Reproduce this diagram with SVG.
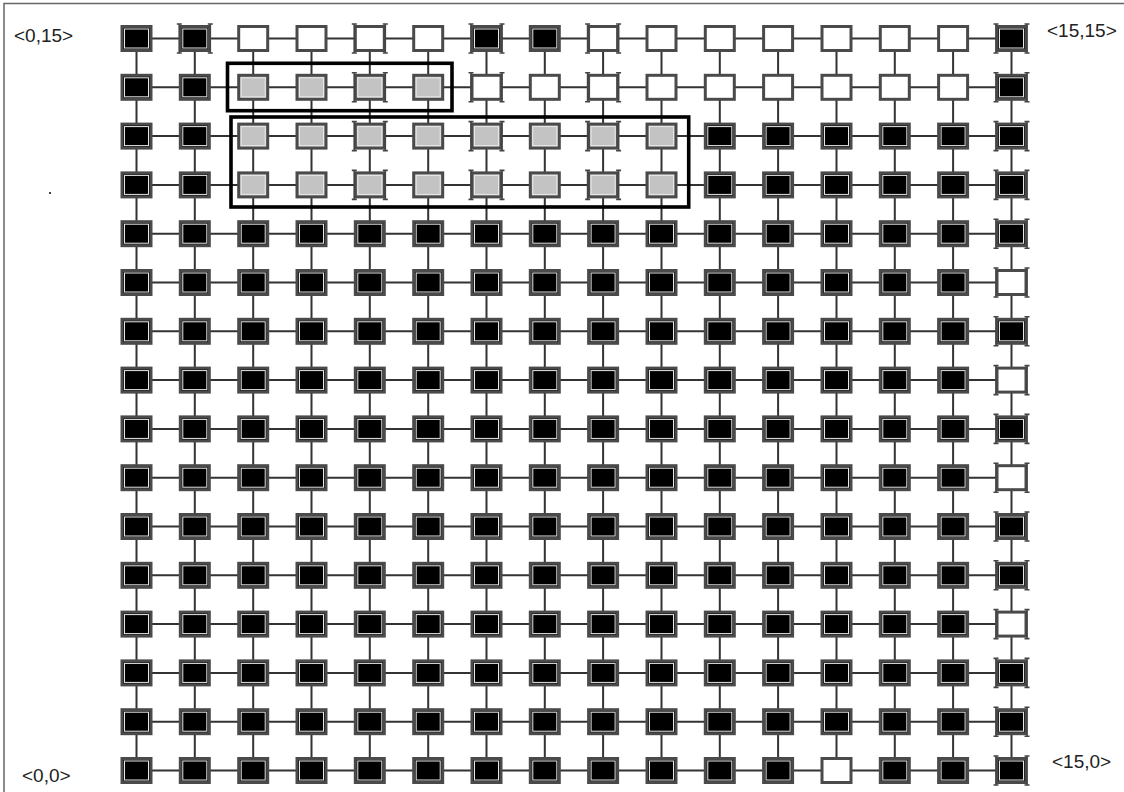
<svg xmlns="http://www.w3.org/2000/svg" xmlns:xlink="http://www.w3.org/1999/xlink" width="1124" height="792" viewBox="0 0 1124 792">
<style>
.frame{fill:none;stroke:#666;stroke-width:1.5}
.con{fill:none;stroke:#333;stroke-width:2}
.box{fill:none;stroke:#000;stroke-width:3.6}
.lbl{font-family:"Liberation Sans",Arial,sans-serif;font-size:19px;fill:#222}
.ob{stroke:#4a4a4a;stroke-width:3}
.ring{fill:none;stroke:#e8e8e8;stroke-width:1}
.ib{fill:none;stroke:#444;stroke-width:1.6}
</style>
<defs>
<g id="B"><rect class="ob" x="-14.5" y="-12" width="29" height="24" fill="#000"/><rect class="ring" x="-12" y="-9.5" width="24" height="19"/></g>
<g id="W"><rect class="ob" x="-14.5" y="-12" width="29" height="24" fill="#fff"/></g>
<g id="G"><rect class="ob" x="-14.5" y="-12" width="29" height="24" fill="#c3c3c3"/><rect class="ring" x="-12" y="-9.5" width="24" height="19"/></g>
<path id="IB" class="ib" d="M-15.5 -15V15M15.5 -15V15M-18 -14.5H-13M13 -14.5H18M-18 14.5H-13M13 14.5H18"/>
<path id="hrow" d="M150 0H181.3M208.3 0H239.7M266.7 0H298M325 0H356.3M383.3 0H414.7M441.7 0H473M500 0H531.3M558.3 0H589.6M616.6 0H648M675 0H706.3M733.3 0H764.6M791.6 0H823M850 0H881.3M908.3 0H939.6M966.6 0H998"/>
<path id="vcol" d="M0 50.5V75.3M0 99.3V124.1M0 148.1V172.9M0 196.9V221.7M0 245.7V270.5M0 294.5V319.3M0 343.3V368.1M0 392.1V416.9M0 440.9V465.7M0 489.7V514.5M0 538.5V563.3M0 587.3V612.1M0 636.1V660.9M0 684.9V709.7M0 733.7V758.5"/>
</defs>
<rect width="1124" height="792" fill="#fff"/>
<path class="frame" d="M4 792V3.5H1124"/>
<rect x="49" y="192" width="2" height="2" fill="#444"/>
<g id="labels">
<text class="lbl" x="14" y="42">&lt;0,15&gt;</text>
<text class="lbl" x="1047" y="37">&lt;15,15&gt;</text>
<text class="lbl" x="22" y="782">&lt;0,0&gt;</text>
<text class="lbl" x="1052" y="768">&lt;15,0&gt;</text>
</g>
<g id="connectors" class="con">
<use href="#hrow" y="38.5"/><use href="#hrow" y="87.3"/><use href="#hrow" y="136.1"/><use href="#hrow" y="184.9"/>
<use href="#hrow" y="233.7"/><use href="#hrow" y="282.5"/><use href="#hrow" y="331.3"/><use href="#hrow" y="380.1"/>
<use href="#hrow" y="428.9"/><use href="#hrow" y="477.7"/><use href="#hrow" y="526.5"/><use href="#hrow" y="575.3"/>
<use href="#hrow" y="624.1"/><use href="#hrow" y="672.9"/><use href="#hrow" y="721.7"/><use href="#hrow" y="770.5"/>
<use href="#vcol" x="136.5"/><use href="#vcol" x="194.8"/><use href="#vcol" x="253.2"/><use href="#vcol" x="311.5"/>
<use href="#vcol" x="369.8"/><use href="#vcol" x="428.2"/><use href="#vcol" x="486.5"/><use href="#vcol" x="544.8"/>
<use href="#vcol" x="603.1"/><use href="#vcol" x="661.5"/><use href="#vcol" x="719.8"/><use href="#vcol" x="778.1"/>
<use href="#vcol" x="836.5"/><use href="#vcol" x="894.8"/><use href="#vcol" x="953.1"/><use href="#vcol" x="1011.5"/>
</g>
<g id="nodes">
<g id="n0_15"><use href="#B" x="136.5" y="38.5"/></g><g id="n1_15"><use href="#B" x="194.8" y="38.5"/><use href="#IB" x="194.8" y="38.5"/></g><g id="n2_15"><use href="#W" x="253.2" y="38.5"/></g><g id="n3_15"><use href="#W" x="311.5" y="38.5"/></g><g id="n4_15"><use href="#W" x="369.8" y="38.5"/><use href="#IB" x="369.8" y="38.5"/></g><g id="n5_15"><use href="#W" x="428.2" y="38.5"/></g><g id="n6_15"><use href="#B" x="486.5" y="38.5"/><use href="#IB" x="486.5" y="38.5"/></g><g id="n7_15"><use href="#B" x="544.8" y="38.5"/></g><g id="n8_15"><use href="#W" x="603.1" y="38.5"/><use href="#IB" x="603.1" y="38.5"/></g><g id="n9_15"><use href="#W" x="661.5" y="38.5"/></g><g id="n10_15"><use href="#W" x="719.8" y="38.5"/></g><g id="n11_15"><use href="#W" x="778.1" y="38.5"/></g><g id="n12_15"><use href="#W" x="836.5" y="38.5"/></g><g id="n13_15"><use href="#W" x="894.8" y="38.5"/></g><g id="n14_15"><use href="#W" x="953.1" y="38.5"/></g><g id="n15_15"><use href="#B" x="1011.5" y="38.5"/><use href="#IB" x="1011.5" y="38.5"/></g>
<g id="n0_14"><use href="#B" x="136.5" y="87.3"/></g><g id="n1_14"><use href="#B" x="194.8" y="87.3"/></g><g id="n2_14"><use href="#G" x="253.2" y="87.3"/></g><g id="n3_14"><use href="#G" x="311.5" y="87.3"/></g><g id="n4_14"><use href="#G" x="369.8" y="87.3"/><use href="#IB" x="369.8" y="87.3"/></g><g id="n5_14"><use href="#G" x="428.2" y="87.3"/></g><g id="n6_14"><use href="#W" x="486.5" y="87.3"/><use href="#IB" x="486.5" y="87.3"/></g><g id="n7_14"><use href="#W" x="544.8" y="87.3"/></g><g id="n8_14"><use href="#W" x="603.1" y="87.3"/><use href="#IB" x="603.1" y="87.3"/></g><g id="n9_14"><use href="#W" x="661.5" y="87.3"/></g><g id="n10_14"><use href="#W" x="719.8" y="87.3"/></g><g id="n11_14"><use href="#W" x="778.1" y="87.3"/></g><g id="n12_14"><use href="#W" x="836.5" y="87.3"/></g><g id="n13_14"><use href="#W" x="894.8" y="87.3"/></g><g id="n14_14"><use href="#W" x="953.1" y="87.3"/></g><g id="n15_14"><use href="#B" x="1011.5" y="87.3"/><use href="#IB" x="1011.5" y="87.3"/></g>
<g id="n0_13"><use href="#B" x="136.5" y="136.1"/></g><g id="n1_13"><use href="#B" x="194.8" y="136.1"/></g><g id="n2_13"><use href="#G" x="253.2" y="136.1"/></g><g id="n3_13"><use href="#G" x="311.5" y="136.1"/></g><g id="n4_13"><use href="#G" x="369.8" y="136.1"/><use href="#IB" x="369.8" y="136.1"/></g><g id="n5_13"><use href="#G" x="428.2" y="136.1"/></g><g id="n6_13"><use href="#G" x="486.5" y="136.1"/><use href="#IB" x="486.5" y="136.1"/></g><g id="n7_13"><use href="#G" x="544.8" y="136.1"/></g><g id="n8_13"><use href="#G" x="603.1" y="136.1"/><use href="#IB" x="603.1" y="136.1"/></g><g id="n9_13"><use href="#G" x="661.5" y="136.1"/></g><g id="n10_13"><use href="#B" x="719.8" y="136.1"/></g><g id="n11_13"><use href="#B" x="778.1" y="136.1"/></g><g id="n12_13"><use href="#B" x="836.5" y="136.1"/></g><g id="n13_13"><use href="#B" x="894.8" y="136.1"/></g><g id="n14_13"><use href="#B" x="953.1" y="136.1"/></g><g id="n15_13"><use href="#B" x="1011.5" y="136.1"/><use href="#IB" x="1011.5" y="136.1"/></g>
<g id="n0_12"><use href="#B" x="136.5" y="184.9"/></g><g id="n1_12"><use href="#B" x="194.8" y="184.9"/></g><g id="n2_12"><use href="#G" x="253.2" y="184.9"/></g><g id="n3_12"><use href="#G" x="311.5" y="184.9"/></g><g id="n4_12"><use href="#G" x="369.8" y="184.9"/><use href="#IB" x="369.8" y="184.9"/></g><g id="n5_12"><use href="#G" x="428.2" y="184.9"/></g><g id="n6_12"><use href="#G" x="486.5" y="184.9"/><use href="#IB" x="486.5" y="184.9"/></g><g id="n7_12"><use href="#G" x="544.8" y="184.9"/></g><g id="n8_12"><use href="#G" x="603.1" y="184.9"/><use href="#IB" x="603.1" y="184.9"/></g><g id="n9_12"><use href="#G" x="661.5" y="184.9"/></g><g id="n10_12"><use href="#B" x="719.8" y="184.9"/></g><g id="n11_12"><use href="#B" x="778.1" y="184.9"/></g><g id="n12_12"><use href="#B" x="836.5" y="184.9"/></g><g id="n13_12"><use href="#B" x="894.8" y="184.9"/></g><g id="n14_12"><use href="#B" x="953.1" y="184.9"/></g><g id="n15_12"><use href="#B" x="1011.5" y="184.9"/><use href="#IB" x="1011.5" y="184.9"/></g>
<g id="n0_11"><use href="#B" x="136.5" y="233.7"/></g><g id="n1_11"><use href="#B" x="194.8" y="233.7"/></g><g id="n2_11"><use href="#B" x="253.2" y="233.7"/></g><g id="n3_11"><use href="#B" x="311.5" y="233.7"/></g><g id="n4_11"><use href="#B" x="369.8" y="233.7"/></g><g id="n5_11"><use href="#B" x="428.2" y="233.7"/></g><g id="n6_11"><use href="#B" x="486.5" y="233.7"/></g><g id="n7_11"><use href="#B" x="544.8" y="233.7"/></g><g id="n8_11"><use href="#B" x="603.1" y="233.7"/></g><g id="n9_11"><use href="#B" x="661.5" y="233.7"/></g><g id="n10_11"><use href="#B" x="719.8" y="233.7"/></g><g id="n11_11"><use href="#B" x="778.1" y="233.7"/></g><g id="n12_11"><use href="#B" x="836.5" y="233.7"/></g><g id="n13_11"><use href="#B" x="894.8" y="233.7"/></g><g id="n14_11"><use href="#B" x="953.1" y="233.7"/></g><g id="n15_11"><use href="#B" x="1011.5" y="233.7"/><use href="#IB" x="1011.5" y="233.7"/></g>
<g id="n0_10"><use href="#B" x="136.5" y="282.5"/></g><g id="n1_10"><use href="#B" x="194.8" y="282.5"/></g><g id="n2_10"><use href="#B" x="253.2" y="282.5"/></g><g id="n3_10"><use href="#B" x="311.5" y="282.5"/></g><g id="n4_10"><use href="#B" x="369.8" y="282.5"/></g><g id="n5_10"><use href="#B" x="428.2" y="282.5"/></g><g id="n6_10"><use href="#B" x="486.5" y="282.5"/></g><g id="n7_10"><use href="#B" x="544.8" y="282.5"/></g><g id="n8_10"><use href="#B" x="603.1" y="282.5"/></g><g id="n9_10"><use href="#B" x="661.5" y="282.5"/></g><g id="n10_10"><use href="#B" x="719.8" y="282.5"/></g><g id="n11_10"><use href="#B" x="778.1" y="282.5"/></g><g id="n12_10"><use href="#B" x="836.5" y="282.5"/></g><g id="n13_10"><use href="#B" x="894.8" y="282.5"/></g><g id="n14_10"><use href="#B" x="953.1" y="282.5"/></g><g id="n15_10"><use href="#W" x="1011.5" y="282.5"/><use href="#IB" x="1011.5" y="282.5"/></g>
<g id="n0_9"><use href="#B" x="136.5" y="331.3"/></g><g id="n1_9"><use href="#B" x="194.8" y="331.3"/></g><g id="n2_9"><use href="#B" x="253.2" y="331.3"/></g><g id="n3_9"><use href="#B" x="311.5" y="331.3"/></g><g id="n4_9"><use href="#B" x="369.8" y="331.3"/></g><g id="n5_9"><use href="#B" x="428.2" y="331.3"/></g><g id="n6_9"><use href="#B" x="486.5" y="331.3"/></g><g id="n7_9"><use href="#B" x="544.8" y="331.3"/></g><g id="n8_9"><use href="#B" x="603.1" y="331.3"/></g><g id="n9_9"><use href="#B" x="661.5" y="331.3"/></g><g id="n10_9"><use href="#B" x="719.8" y="331.3"/></g><g id="n11_9"><use href="#B" x="778.1" y="331.3"/></g><g id="n12_9"><use href="#B" x="836.5" y="331.3"/></g><g id="n13_9"><use href="#B" x="894.8" y="331.3"/></g><g id="n14_9"><use href="#B" x="953.1" y="331.3"/></g><g id="n15_9"><use href="#B" x="1011.5" y="331.3"/><use href="#IB" x="1011.5" y="331.3"/></g>
<g id="n0_8"><use href="#B" x="136.5" y="380.1"/></g><g id="n1_8"><use href="#B" x="194.8" y="380.1"/></g><g id="n2_8"><use href="#B" x="253.2" y="380.1"/></g><g id="n3_8"><use href="#B" x="311.5" y="380.1"/></g><g id="n4_8"><use href="#B" x="369.8" y="380.1"/></g><g id="n5_8"><use href="#B" x="428.2" y="380.1"/></g><g id="n6_8"><use href="#B" x="486.5" y="380.1"/></g><g id="n7_8"><use href="#B" x="544.8" y="380.1"/></g><g id="n8_8"><use href="#B" x="603.1" y="380.1"/></g><g id="n9_8"><use href="#B" x="661.5" y="380.1"/></g><g id="n10_8"><use href="#B" x="719.8" y="380.1"/></g><g id="n11_8"><use href="#B" x="778.1" y="380.1"/></g><g id="n12_8"><use href="#B" x="836.5" y="380.1"/></g><g id="n13_8"><use href="#B" x="894.8" y="380.1"/></g><g id="n14_8"><use href="#B" x="953.1" y="380.1"/></g><g id="n15_8"><use href="#W" x="1011.5" y="380.1"/><use href="#IB" x="1011.5" y="380.1"/></g>
<g id="n0_7"><use href="#B" x="136.5" y="428.9"/></g><g id="n1_7"><use href="#B" x="194.8" y="428.9"/></g><g id="n2_7"><use href="#B" x="253.2" y="428.9"/></g><g id="n3_7"><use href="#B" x="311.5" y="428.9"/></g><g id="n4_7"><use href="#B" x="369.8" y="428.9"/></g><g id="n5_7"><use href="#B" x="428.2" y="428.9"/></g><g id="n6_7"><use href="#B" x="486.5" y="428.9"/></g><g id="n7_7"><use href="#B" x="544.8" y="428.9"/></g><g id="n8_7"><use href="#B" x="603.1" y="428.9"/></g><g id="n9_7"><use href="#B" x="661.5" y="428.9"/></g><g id="n10_7"><use href="#B" x="719.8" y="428.9"/></g><g id="n11_7"><use href="#B" x="778.1" y="428.9"/></g><g id="n12_7"><use href="#B" x="836.5" y="428.9"/></g><g id="n13_7"><use href="#B" x="894.8" y="428.9"/></g><g id="n14_7"><use href="#B" x="953.1" y="428.9"/></g><g id="n15_7"><use href="#B" x="1011.5" y="428.9"/><use href="#IB" x="1011.5" y="428.9"/></g>
<g id="n0_6"><use href="#B" x="136.5" y="477.7"/></g><g id="n1_6"><use href="#B" x="194.8" y="477.7"/></g><g id="n2_6"><use href="#B" x="253.2" y="477.7"/></g><g id="n3_6"><use href="#B" x="311.5" y="477.7"/></g><g id="n4_6"><use href="#B" x="369.8" y="477.7"/></g><g id="n5_6"><use href="#B" x="428.2" y="477.7"/></g><g id="n6_6"><use href="#B" x="486.5" y="477.7"/></g><g id="n7_6"><use href="#B" x="544.8" y="477.7"/></g><g id="n8_6"><use href="#B" x="603.1" y="477.7"/></g><g id="n9_6"><use href="#B" x="661.5" y="477.7"/></g><g id="n10_6"><use href="#B" x="719.8" y="477.7"/></g><g id="n11_6"><use href="#B" x="778.1" y="477.7"/></g><g id="n12_6"><use href="#B" x="836.5" y="477.7"/></g><g id="n13_6"><use href="#B" x="894.8" y="477.7"/></g><g id="n14_6"><use href="#B" x="953.1" y="477.7"/></g><g id="n15_6"><use href="#W" x="1011.5" y="477.7"/><use href="#IB" x="1011.5" y="477.7"/></g>
<g id="n0_5"><use href="#B" x="136.5" y="526.5"/></g><g id="n1_5"><use href="#B" x="194.8" y="526.5"/></g><g id="n2_5"><use href="#B" x="253.2" y="526.5"/></g><g id="n3_5"><use href="#B" x="311.5" y="526.5"/></g><g id="n4_5"><use href="#B" x="369.8" y="526.5"/></g><g id="n5_5"><use href="#B" x="428.2" y="526.5"/></g><g id="n6_5"><use href="#B" x="486.5" y="526.5"/></g><g id="n7_5"><use href="#B" x="544.8" y="526.5"/></g><g id="n8_5"><use href="#B" x="603.1" y="526.5"/></g><g id="n9_5"><use href="#B" x="661.5" y="526.5"/></g><g id="n10_5"><use href="#B" x="719.8" y="526.5"/></g><g id="n11_5"><use href="#B" x="778.1" y="526.5"/></g><g id="n12_5"><use href="#B" x="836.5" y="526.5"/></g><g id="n13_5"><use href="#B" x="894.8" y="526.5"/></g><g id="n14_5"><use href="#B" x="953.1" y="526.5"/></g><g id="n15_5"><use href="#B" x="1011.5" y="526.5"/><use href="#IB" x="1011.5" y="526.5"/></g>
<g id="n0_4"><use href="#B" x="136.5" y="575.3"/></g><g id="n1_4"><use href="#B" x="194.8" y="575.3"/></g><g id="n2_4"><use href="#B" x="253.2" y="575.3"/></g><g id="n3_4"><use href="#B" x="311.5" y="575.3"/></g><g id="n4_4"><use href="#B" x="369.8" y="575.3"/></g><g id="n5_4"><use href="#B" x="428.2" y="575.3"/></g><g id="n6_4"><use href="#B" x="486.5" y="575.3"/></g><g id="n7_4"><use href="#B" x="544.8" y="575.3"/></g><g id="n8_4"><use href="#B" x="603.1" y="575.3"/></g><g id="n9_4"><use href="#B" x="661.5" y="575.3"/></g><g id="n10_4"><use href="#B" x="719.8" y="575.3"/></g><g id="n11_4"><use href="#B" x="778.1" y="575.3"/></g><g id="n12_4"><use href="#B" x="836.5" y="575.3"/></g><g id="n13_4"><use href="#B" x="894.8" y="575.3"/></g><g id="n14_4"><use href="#B" x="953.1" y="575.3"/></g><g id="n15_4"><use href="#B" x="1011.5" y="575.3"/><use href="#IB" x="1011.5" y="575.3"/></g>
<g id="n0_3"><use href="#B" x="136.5" y="624.1"/></g><g id="n1_3"><use href="#B" x="194.8" y="624.1"/></g><g id="n2_3"><use href="#B" x="253.2" y="624.1"/></g><g id="n3_3"><use href="#B" x="311.5" y="624.1"/></g><g id="n4_3"><use href="#B" x="369.8" y="624.1"/></g><g id="n5_3"><use href="#B" x="428.2" y="624.1"/></g><g id="n6_3"><use href="#B" x="486.5" y="624.1"/></g><g id="n7_3"><use href="#B" x="544.8" y="624.1"/></g><g id="n8_3"><use href="#B" x="603.1" y="624.1"/></g><g id="n9_3"><use href="#B" x="661.5" y="624.1"/></g><g id="n10_3"><use href="#B" x="719.8" y="624.1"/></g><g id="n11_3"><use href="#B" x="778.1" y="624.1"/></g><g id="n12_3"><use href="#B" x="836.5" y="624.1"/></g><g id="n13_3"><use href="#B" x="894.8" y="624.1"/></g><g id="n14_3"><use href="#B" x="953.1" y="624.1"/></g><g id="n15_3"><use href="#W" x="1011.5" y="624.1"/><use href="#IB" x="1011.5" y="624.1"/></g>
<g id="n0_2"><use href="#B" x="136.5" y="672.9"/></g><g id="n1_2"><use href="#B" x="194.8" y="672.9"/></g><g id="n2_2"><use href="#B" x="253.2" y="672.9"/></g><g id="n3_2"><use href="#B" x="311.5" y="672.9"/></g><g id="n4_2"><use href="#B" x="369.8" y="672.9"/></g><g id="n5_2"><use href="#B" x="428.2" y="672.9"/></g><g id="n6_2"><use href="#B" x="486.5" y="672.9"/></g><g id="n7_2"><use href="#B" x="544.8" y="672.9"/></g><g id="n8_2"><use href="#B" x="603.1" y="672.9"/></g><g id="n9_2"><use href="#B" x="661.5" y="672.9"/></g><g id="n10_2"><use href="#B" x="719.8" y="672.9"/></g><g id="n11_2"><use href="#B" x="778.1" y="672.9"/></g><g id="n12_2"><use href="#B" x="836.5" y="672.9"/></g><g id="n13_2"><use href="#B" x="894.8" y="672.9"/></g><g id="n14_2"><use href="#B" x="953.1" y="672.9"/></g><g id="n15_2"><use href="#B" x="1011.5" y="672.9"/><use href="#IB" x="1011.5" y="672.9"/></g>
<g id="n0_1"><use href="#B" x="136.5" y="721.7"/></g><g id="n1_1"><use href="#B" x="194.8" y="721.7"/></g><g id="n2_1"><use href="#B" x="253.2" y="721.7"/></g><g id="n3_1"><use href="#B" x="311.5" y="721.7"/></g><g id="n4_1"><use href="#B" x="369.8" y="721.7"/></g><g id="n5_1"><use href="#B" x="428.2" y="721.7"/></g><g id="n6_1"><use href="#B" x="486.5" y="721.7"/></g><g id="n7_1"><use href="#B" x="544.8" y="721.7"/></g><g id="n8_1"><use href="#B" x="603.1" y="721.7"/></g><g id="n9_1"><use href="#B" x="661.5" y="721.7"/></g><g id="n10_1"><use href="#B" x="719.8" y="721.7"/></g><g id="n11_1"><use href="#B" x="778.1" y="721.7"/></g><g id="n12_1"><use href="#B" x="836.5" y="721.7"/></g><g id="n13_1"><use href="#B" x="894.8" y="721.7"/></g><g id="n14_1"><use href="#B" x="953.1" y="721.7"/></g><g id="n15_1"><use href="#B" x="1011.5" y="721.7"/><use href="#IB" x="1011.5" y="721.7"/></g>
<g id="n0_0"><use href="#B" x="136.5" y="770.5"/></g><g id="n1_0"><use href="#B" x="194.8" y="770.5"/></g><g id="n2_0"><use href="#B" x="253.2" y="770.5"/></g><g id="n3_0"><use href="#B" x="311.5" y="770.5"/></g><g id="n4_0"><use href="#B" x="369.8" y="770.5"/></g><g id="n5_0"><use href="#B" x="428.2" y="770.5"/></g><g id="n6_0"><use href="#B" x="486.5" y="770.5"/></g><g id="n7_0"><use href="#B" x="544.8" y="770.5"/></g><g id="n8_0"><use href="#B" x="603.1" y="770.5"/></g><g id="n9_0"><use href="#B" x="661.5" y="770.5"/></g><g id="n10_0"><use href="#B" x="719.8" y="770.5"/></g><g id="n11_0"><use href="#B" x="778.1" y="770.5"/></g><g id="n12_0"><use href="#W" x="836.5" y="770.5"/></g><g id="n13_0"><use href="#B" x="894.8" y="770.5"/></g><g id="n14_0"><use href="#B" x="953.1" y="770.5"/></g><g id="n15_0"><use href="#B" x="1011.5" y="770.5"/><use href="#IB" x="1011.5" y="770.5"/></g>
</g>
<g id="highlights">
<rect class="box" x="227.5" y="63.3" width="224.5" height="47.4"/>
<rect class="box" x="231" y="117" width="457.7" height="90"/>
</g>
</svg>
